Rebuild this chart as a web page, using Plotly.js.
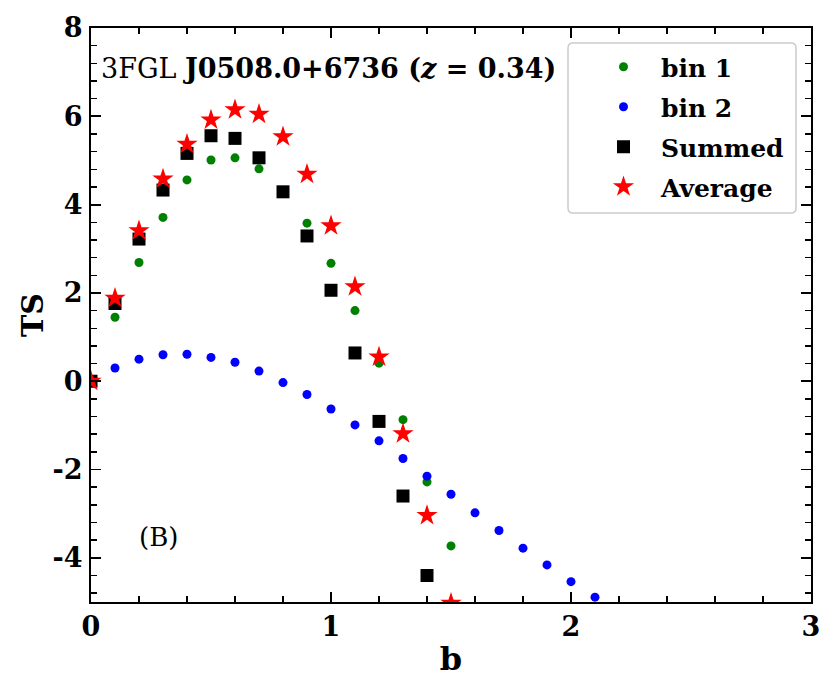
<!DOCTYPE html>
<html>
<head>
<meta charset="utf-8">
<script src="https://cdn.plot.ly/plotly-3.0.1.min.js"></script>
<style>
  html, body { margin: 0; padding: 0; background: #fff; }
  #chart { width: 838px; height: 694px; }
</style>
</head>
<body>
<div id="chart"></div>
<script>
// TS profile versus b for 3FGL J0508.0+6736, two energy bins and their combinations
const bBin1 = [0, 0.1, 0.2, 0.3, 0.4, 0.5, 0.6, 0.7, 0.8, 0.9, 1.0, 1.1, 1.2, 1.3, 1.4, 1.5];
const tsBin1 = [0, 1.45, 2.69, 3.71, 4.56, 5.01, 5.06, 4.81, 4.31, 3.58, 2.67, 1.60, 0.41, -0.87, -2.28, -3.73];

const bBin2 = [0, 0.1, 0.2, 0.3, 0.4, 0.5, 0.6, 0.7, 0.8, 0.9, 1.0, 1.1, 1.2, 1.3, 1.4, 1.5, 1.6, 1.7, 1.8, 1.9, 2.0, 2.1];
const tsBin2 = [0, 0.30, 0.50, 0.60, 0.61, 0.54, 0.43, 0.23, -0.03, -0.30, -0.63, -0.99, -1.35, -1.75, -2.15, -2.56, -2.98, -3.38, -3.78, -4.16, -4.54, -4.89];

const bSummed = [0, 0.1, 0.2, 0.3, 0.4, 0.5, 0.6, 0.7, 0.8, 0.9, 1.0, 1.1, 1.2, 1.3, 1.4];
const tsSummed = [0, 1.76, 3.22, 4.33, 5.16, 5.56, 5.50, 5.06, 4.29, 3.29, 2.06, 0.64, -0.91, -2.60, -4.40];

const bAverage = [0, 0.1, 0.2, 0.3, 0.4, 0.5, 0.6, 0.7, 0.8, 0.9, 1.0, 1.1, 1.2, 1.3, 1.4, 1.5];
const tsAverage = [0, 1.88, 3.41, 4.58, 5.37, 5.92, 6.15, 6.05, 5.54, 4.69, 3.52, 2.14, 0.55, -1.19, -3.04, -5.03];

const xTickVals = [0, 1, 2, 3];
const xTickText = ['0', '1', '2', '3'];
const yTickVals = [-4, -2, 0, 2, 4, 6, 8];
const yTickText = ['-4', '-2', '0', '2', '4', '6', '8'];

const FONT = 'DejaVu Serif';

const traces = [
  { name: 'bin 1', x: bBin1, y: tsBin1, type: 'scatter', mode: 'markers',
    marker: { symbol: 'circle', size: 9, color: '#008000' }, legend: 'legend' },
  { name: 'bin 2', x: bBin2, y: tsBin2, type: 'scatter', mode: 'markers',
    marker: { symbol: 'circle', size: 9, color: '#0000ff' }, legend: 'legend2' },
  { name: 'Summed', x: bSummed, y: tsSummed, type: 'scatter', mode: 'markers',
    marker: { symbol: 'square', size: 13, color: '#000000' }, legend: 'legend3' },
  { name: 'Average', x: bAverage, y: tsAverage, type: 'scatter', mode: 'markers',
    marker: { symbol: 'star', size: 16, color: '#ff0000' }, legend: 'legend4' }
];

// plot area in pixels: left 91, right 811, top 28, bottom 602
const L = 91, T = 28, W = 720, H = 574;
const px = v => (v - L) / W;
const py = v => (T + H - v) / H;

function legendSlot(yPix) {
  return {
    x: px(586), xanchor: 'left', y: py(yPix), yanchor: 'middle',
    bgcolor: 'rgba(0,0,0,0)', borderwidth: 0,
    font: { family: FONT, size: 25, weight: 'bold', color: '#000' },
    itemwidth: 65
  };
}

// rounded frame behind the legend entries
const bx0 = px(568), bx1 = px(796), by0 = py(213), by1 = py(43);
const rx = 5 / W, ry = 5 / H;
const framePath =
  `M ${bx0 + rx},${by0} L ${bx1 - rx},${by0} Q ${bx1},${by0} ${bx1},${by0 + ry} ` +
  `L ${bx1},${by1 - ry} Q ${bx1},${by1} ${bx1 - rx},${by1} ` +
  `L ${bx0 + rx},${by1} Q ${bx0},${by1} ${bx0},${by1 - ry} ` +
  `L ${bx0},${by0 + ry} Q ${bx0},${by0} ${bx0 + rx},${by0} Z`;

const axisCommon = {
  showgrid: false, zeroline: false, showline: true, linecolor: '#000', linewidth: 2,
  mirror: 'ticks', ticks: 'inside', ticklen: 10, tickwidth: 1.8, tickcolor: '#000',
  tickmode: 'array',
  tickfont: { family: FONT, size: 27, weight: 'bold', color: '#000' },
  automargin: false
};

const layout = {
  width: 838, height: 694,
  margin: { l: L, r: 838 - L - W, t: T, b: 694 - T - H, autoexpand: false },
  paper_bgcolor: '#fff', plot_bgcolor: '#fff',
  font: { family: FONT, color: '#000' },
  showlegend: true,
  xaxis: Object.assign({}, axisCommon, {
    range: [0, 3], tickvals: xTickVals, ticktext: xTickText,
    minor: { tickmode: 'linear', tick0: 0, dtick: 0.2, ticks: 'inside', ticklen: 6, tickwidth: 1.5, tickcolor: '#000' },
    title: { text: 'b', font: { family: FONT, size: 32, weight: 'bold', color: '#000' }, standoff: 6 }
  }),
  yaxis: Object.assign({}, axisCommon, {
    range: [-5, 8], tickvals: yTickVals, ticktext: yTickText, ticklabelstandoff: 1,
    minor: { tickmode: 'linear', tick0: 0, dtick: 0.4, ticks: 'inside', ticklen: 6, tickwidth: 1.5, tickcolor: '#000' },
    title: { text: 'TS', font: { family: FONT, size: 30, weight: 'bold', color: '#000' }, standoff: 0 }
  }),
  legend: legendSlot(67),
  legend2: legendSlot(107),
  legend3: legendSlot(147),
  legend4: legendSlot(187),
  shapes: [
    { type: 'path', xref: 'paper', yref: 'paper', path: framePath, layer: 'above',
      fillcolor: '#ffffff', line: { color: '#cccccc', width: 1.5 } }
  ],
  annotations: [
    { xref: 'paper', yref: 'paper', x: px(99), y: py(68), xanchor: 'left', yanchor: 'middle',
      showarrow: false, text: '3FGL <b>J0508.0+6736 (<i>z</i> = 0.34)</b>',
      font: { family: FONT, size: 27, color: '#000' } },
    { xref: 'paper', yref: 'paper', x: px(137), y: py(537), xanchor: 'left', yanchor: 'middle',
      showarrow: false, text: '(B)', font: { family: FONT, size: 26, color: '#000' } }
  ]
};

Plotly.newPlot('chart', traces, layout, { displayModeBar: false, staticPlot: true });
</script>
</body>
</html>
